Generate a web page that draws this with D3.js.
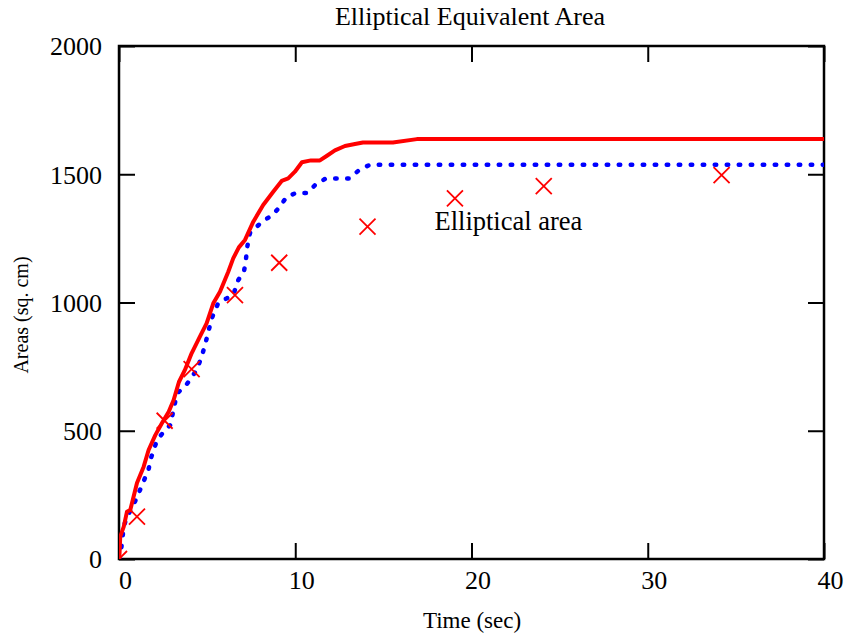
<!DOCTYPE html>
<html>
<head>
<meta charset="utf-8">
<script src="https://cdn.jsdelivr.net/npm/d3@7"></script>
<style>
  html, body { margin: 0; padding: 0; background: #fff; }
  svg text { font-family: "Liberation Serif", "Times New Roman", serif; fill: #000; }
</style>
</head>
<body>
<svg id="chart" width="845" height="635"></svg>
<script>
// Equivalent-area curves (sq. cm) against time (s)
const solidTime  = [0, 0.02, 0.07, 0.27, 0.45, 0.64, 1.02, 1.40, 1.68, 2.06, 2.44, 2.82, 3.10, 3.40, 3.74, 4.12, 4.59, 4.97, 5.35, 5.73, 6.20, 6.48, 6.80, 7.15, 7.62, 8.18, 8.75, 9.23, 9.60, 9.98, 10.38, 10.89, 11.40, 11.80, 12.25, 12.82, 13.39, 13.84, 15.54, 16.90, 40];
const solidArea  = [0, 4, 87, 126, 184, 191, 296, 360, 425, 483, 530, 574, 620, 690, 737, 802, 867, 919, 997, 1042, 1120, 1172, 1215, 1244, 1315, 1380, 1432, 1474, 1484, 1510, 1547, 1554, 1554, 1572, 1593, 1610, 1618, 1624, 1624, 1637, 1637];

const dottedTime = [0, 0.13, 0.27, 0.45, 0.78, 1.26, 1.68, 1.82, 2.16, 2.54, 2.91, 3.05, 3.19, 3.39, 3.74, 4.41, 4.69, 4.88, 5.07, 5.26, 5.63, 6.11, 6.48, 6.77, 7.09, 7.20, 7.28, 7.43, 7.71, 8.18, 8.72, 9.13, 9.51, 10.04, 10.70, 11.17, 11.72, 13.06, 13.67, 14.24, 40];
const dottedArea = [0, 42, 126, 165, 204, 280, 350, 395, 464, 496, 522, 568, 613, 652, 671, 737, 789, 834, 886, 938, 998, 1016, 1029, 1088, 1120, 1166, 1218, 1271, 1289, 1318, 1341, 1374, 1412, 1427, 1427, 1461, 1483, 1483, 1519, 1537, 1537];

// Elliptical area samples
const crossTime  = [0, 1.02, 2.59, 4.12, 6.58, 9.09, 14.1, 19.06, 24.1, 34.19];
const crossArea  = [0, 165, 539, 740, 1029, 1155, 1296, 1406, 1454, 1497];

const xTicks = [0, 10, 20, 30, 40];
const yTicks = [0, 500, 1000, 1500, 2000];

const titleText = "Elliptical Equivalent Area";
const xLabel = "Time (sec)";
const yLabel = "Areas (sq. cm)";
const noteText = "Elliptical area";
const notePos = [17.9, 1283];

const svg = d3.select("#chart");
const plotL = 119, plotR = 824, plotT = 46, plotB = 559;

const x = d3.scaleLinear().domain([0, 40]).range([plotL, plotR]);
const y = d3.scaleLinear().domain([0, 2000]).range([plotB, plotT]);

const tickLen = 16;
const fmt = d3.format("d");

// clip region for the data
svg.append("defs").append("clipPath").attr("id", "plotClip")
  .append("rect").attr("x", plotL).attr("y", plotT)
  .attr("width", plotR - plotL).attr("height", plotB - plotT);

// axes with inward ticks on all four sides
const axB = svg.append("g").attr("transform", `translate(0,${plotB})`)
  .call(d3.axisBottom(x).tickValues(xTicks).tickFormat(fmt).tickSizeInner(-tickLen).tickSizeOuter(0).tickPadding(12));
const axT = svg.append("g").attr("transform", `translate(0,${plotT})`)
  .call(d3.axisTop(x).tickValues(xTicks).tickSizeInner(-tickLen).tickSizeOuter(0).tickFormat(""));
const axL = svg.append("g").attr("transform", `translate(${plotL},0)`)
  .call(d3.axisLeft(y).tickValues(yTicks).tickFormat(fmt).tickSizeInner(-tickLen).tickSizeOuter(0).tickPadding(17));
const axR = svg.append("g").attr("transform", `translate(${plotR},0)`)
  .call(d3.axisRight(y).tickValues(yTicks).tickSizeInner(-tickLen).tickSizeOuter(0).tickFormat(""));

[axB, axT, axL, axR].forEach(g => {
  g.select(".domain").remove();
  g.selectAll(".tick line").attr("stroke", "#000").attr("stroke-width", 2);
  g.selectAll(".tick text").style("font-family", '"Liberation Serif", serif').attr("font-size", 26).attr("fill", "#000");
});
axB.selectAll(".tick text").attr("dx", 6);
axL.selectAll(".tick text").attr("dy", "0.34em");

// frame
svg.append("rect").attr("x", plotL).attr("y", plotT)
  .attr("width", plotR - plotL).attr("height", plotB - plotT)
  .attr("fill", "none").attr("stroke", "#000").attr("stroke-width", 2.5);

const plot = svg.append("g").attr("clip-path", "url(#plotClip)");

const lineGen = d3.line().x(d => x(d[0])).y(d => y(d[1]));

plot.append("path")
  .datum(dottedTime.map((t, i) => [t, dottedArea[i]]))
  .attr("d", lineGen)
  .attr("fill", "none").attr("stroke", "#0000ff")
  .attr("stroke-width", 4.5).attr("stroke-linecap", "round")
  .attr("stroke-dasharray", "1.5 10.5");

plot.append("path")
  .datum(solidTime.map((t, i) => [t, solidArea[i]]))
  .attr("d", lineGen)
  .attr("fill", "none").attr("stroke", "#ff0000")
  .attr("stroke-width", 4).attr("stroke-linejoin", "round");

const cs = 8;
plot.selectAll("path.cross")
  .data(crossTime.map((t, i) => [t, crossArea[i]]))
  .join("path").attr("class", "cross")
  .attr("d", d => {
    const cx = x(d[0]), cy = y(d[1]);
    return `M${cx - cs},${cy - cs}L${cx + cs},${cy + cs}M${cx - cs},${cy + cs}L${cx + cs},${cy - cs}`;
  })
  .attr("stroke", "#ff0000").attr("stroke-width", 1.8).attr("fill", "none");

// texts
svg.append("text").attr("x", 470).attr("y", 25).attr("text-anchor", "middle")
  .attr("font-size", 26).text(titleText);
svg.append("text").attr("x", 472).attr("y", 628).attr("text-anchor", "middle")
  .attr("font-size", 23).text(xLabel);
svg.append("text").attr("transform", "translate(28,315) rotate(-90)")
  .attr("text-anchor", "middle").attr("font-size", 20).text(yLabel);
svg.append("text").attr("x", x(notePos[0])).attr("y", y(notePos[1]))
  .attr("font-size", 26.5).text(noteText);
</script>
</body>
</html>
